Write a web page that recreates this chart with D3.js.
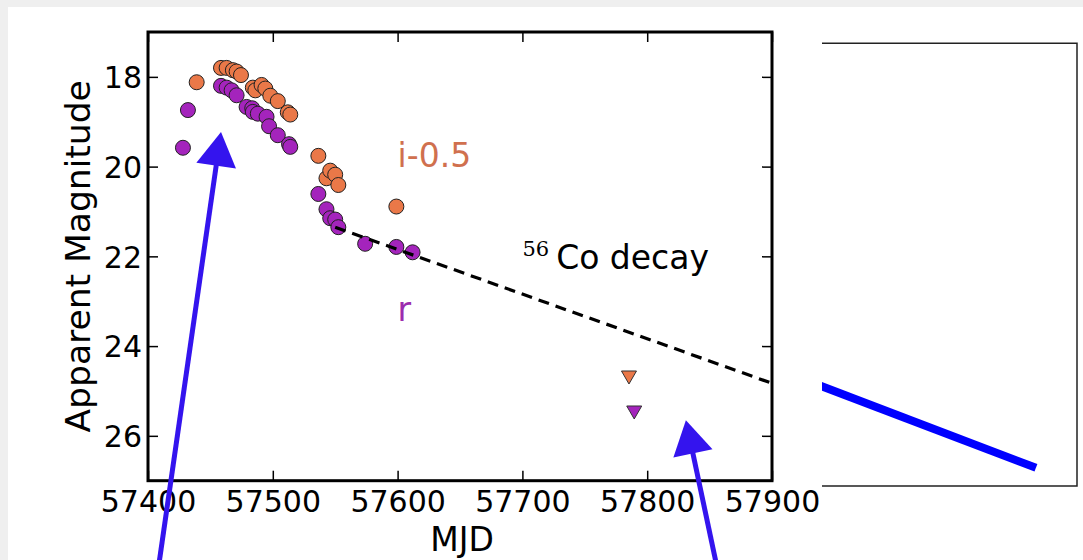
<!DOCTYPE html>
<html>
<head>
<meta charset="utf-8">
<script src="https://d3js.org/d3.v7.min.js"></script>
<style>
  body { margin: 0; background: #efefef; }
  svg { display: block; }
</style>
</head>
<body>
<div id="chart-area"></div>
<script>

// i-band (plotted as i-0.5) detections
var iMJD = [57439, 57458.5, 57463, 57468, 57471, 57474.5, 57484, 57486, 57491, 57494, 57498, 57504, 57512, 57514, 57536.5, 57543, 57546, 57550, 57552.5, 57599];
var iMag = [18.12, 17.8, 17.8, 17.85, 17.88, 17.96, 18.24, 18.3, 18.18, 18.26, 18.42, 18.54, 18.79, 18.84, 19.76, 20.26, 20.09, 20.18, 20.41, 20.89];

// r-band detections
var rMJD = [57428, 57432, 57458.5, 57463, 57467, 57471, 57479, 57483.5, 57484, 57488, 57495, 57497, 57504, 57513, 57514, 57536.5, 57543, 57546, 57550, 57552.5, 57574, 57599, 57612];
var rMag = [19.58, 18.74, 18.2, 18.24, 18.3, 18.41, 18.67, 18.7, 18.78, 18.82, 18.89, 19.10, 19.30, 19.50, 19.56, 20.61, 20.95, 21.15, 21.18, 21.35, 21.72, 21.79, 21.91];

// upper limits
var iLimMJD = [57785.4];
var iLimMag = [24.70];
var rLimMJD = [57789.6];
var rLimMag = [25.48];

// 56Co decay slope
var decayMJD = [57550, 57900];
var decayMag = [21.35, 24.83];

var xTicks = [57400, 57500, 57600, 57700, 57800, 57900];
var yTicks = [18, 20, 22, 24, 26];

// annotation arrows (tail -> tip, in data units)
var arrowTail = [[57407, 29.2], [57858, 29.2]];
var arrowTip = [[57458.5, 19.23], [57831, 25.65]];

// inset panel line (fractions of the inset box)
var insetX = [-0.05, 0.839];
var insetY = [0.764, 0.959];

var iColor = "#ea7848";
var rColor = "#a424bc";

var W = 1083, H = 560;
var margin = {left: 148, top: 32, right: 772, bottom: 480.7};

var svg = d3.select("#chart-area").append("svg")
  .attr("width", W)
  .attr("height", H)
  .style("font-family", "'DejaVu Sans', sans-serif");

svg.append("rect").attr("x", 0).attr("y", 0).attr("width", W).attr("height", H).attr("fill", "#efefef");
svg.append("rect").attr("x", 8).attr("y", 7).attr("width", W - 8).attr("height", H - 7).attr("fill", "#ffffff");

var x = d3.scaleLinear().domain([57400, 57900]).range([margin.left, margin.right]);
var y = d3.scaleLinear().domain([17, 27]).range([margin.top, margin.bottom]);

var g = svg.append("g");

// axes, ticks pointing inward
var xAxisCall = d3.axisBottom(x).tickValues(xTicks).tickSizeInner(-10).tickSizeOuter(0).tickPadding(10).tickFormat(d3.format("d"));
var yAxisCall = d3.axisLeft(y).tickValues(yTicks).tickSizeInner(-10).tickSizeOuter(0).tickPadding(6).tickFormat(d3.format("d"));

var xAxis = g.append("g").attr("transform", "translate(0," + margin.bottom + ")").call(xAxisCall);
var yAxis = g.append("g").attr("transform", "translate(" + margin.left + ",0)").call(yAxisCall);
g.append("g").attr("transform", "translate(0," + margin.top + ")")
  .call(d3.axisTop(x).tickValues(xTicks).tickSizeInner(-10).tickSizeOuter(0).tickFormat(""));
g.append("g").attr("transform", "translate(" + margin.right + ",0)")
  .call(d3.axisRight(y).tickValues(yTicks).tickSizeInner(-10).tickSizeOuter(0).tickFormat(""));

g.selectAll(".domain").remove();
g.selectAll(".tick line").attr("stroke", "#000").attr("stroke-width", 1.5);
g.selectAll(".tick text").attr("fill", "#000").style("font-size", "30px").style("font-family", "'DejaVu Sans', sans-serif");
xAxis.selectAll(".tick text").attr("dy", "0.71em");
yAxis.selectAll(".tick text").attr("dy", "0.36em");

// axis labels
svg.append("text")
  .attr("x", (margin.left + margin.right) / 2 + 2)
  .attr("y", 551)
  .attr("text-anchor", "middle")
  .attr("font-size", "33px")
  .text("MJD");

svg.append("text")
  .attr("transform", "translate(90," + ((margin.top + margin.bottom) / 2) + ") rotate(-90)")
  .attr("text-anchor", "middle")
  .attr("font-size", "34.5px")
  .text("Apparent Magnitude");

// points
var iData = iMJD.map(function(d, i) { return {mjd: d, mag: iMag[i]}; });
var rData = rMJD.map(function(d, i) { return {mjd: d, mag: rMag[i]}; });

svg.append("clipPath").attr("id", "plot-clip")
  .append("rect").attr("x", margin.left).attr("y", margin.top)
  .attr("width", margin.right - margin.left).attr("height", margin.bottom - margin.top);

var pts = svg.append("g");

pts.selectAll("circle.i")
  .data(iData)
  .enter().append("circle")
  .attr("class", "i")
  .attr("cx", function(d) { return x(d.mjd); })
  .attr("cy", function(d) { return y(d.mag); })
  .attr("r", 7.5)
  .attr("fill", iColor)
  .attr("stroke", "#222")
  .attr("stroke-width", 1);

pts.selectAll("circle.r")
  .data(rData)
  .enter().append("circle")
  .attr("class", "r")
  .attr("cx", function(d) { return x(d.mjd); })
  .attr("cy", function(d) { return y(d.mag); })
  .attr("r", 7.5)
  .attr("fill", rColor)
  .attr("stroke", "#222")
  .attr("stroke-width", 1);

// downward triangles for limits
function triDown(cx, cy) {
  return "M" + (cx - 7.5) + "," + (cy - 6.5) + "L" + (cx + 7.5) + "," + (cy - 6.5) + "L" + cx + "," + (cy + 6.5) + "Z";
}
var limData = [
  {mjd: iLimMJD, mag: iLimMag, color: iColor},
  {mjd: rLimMJD, mag: rLimMag, color: rColor}
];
limData.forEach(function(s) {
  pts.selectAll(null)
    .data(s.mjd)
    .enter().append("path")
    .attr("d", function(d, i) { return triDown(x(d), y(s.mag[i])); })
    .attr("fill", s.color)
    .attr("stroke", "#333")
    .attr("stroke-width", 1);
});

// decay line
var decayLine = d3.line()
  .x(function(d) { return x(d[0]); })
  .y(function(d) { return y(d[1]); });

svg.append("path")
  .datum(decayMJD.map(function(d, i) { return [d, decayMag[i]]; }))
  .attr("clip-path", "url(#plot-clip)")
  .attr("d", decayLine)
  .attr("fill", "none")
  .attr("stroke", "#000")
  .attr("stroke-width", 3.2)
  .attr("stroke-dasharray", "11,7");

// frame
svg.append("rect")
  .attr("x", margin.left).attr("y", margin.top)
  .attr("width", margin.right - margin.left).attr("height", margin.bottom - margin.top)
  .attr("fill", "none").attr("stroke", "#000").attr("stroke-width", 3);

// text annotations
svg.append("text")
  .attr("x", x(57600)).attr("y", y(20.0))
  .attr("font-size", "33px").attr("fill", "#d0704e")
  .text("i-0.5");

svg.append("text")
  .attr("x", x(57600)).attr("y", y(23.43))
  .attr("font-size", "33px").attr("fill", "#9c2cae")
  .text("r");

var co = svg.append("text")
  .attr("x", x(57700)).attr("y", y(22.28))
  .attr("font-size", "33px").attr("fill", "#000");
co.append("tspan")
  .attr("font-family", "'DejaVu Serif', 'Liberation Serif', serif")
  .attr("font-size", "21px")
  .attr("dy", "-13")
  .text("56");
co.append("tspan")
  .attr("dy", "13")
  .attr("dx", "7")
  .text("Co decay");

// inset panel (partly shown)
var inset = {x0: 822, x1: 1077, y0: 43.3, y1: 486};
var ix = d3.scaleLinear().domain([0, 1]).range([inset.x0, inset.x1]);
var iy = d3.scaleLinear().domain([0, 1]).range([inset.y0, inset.y1]);

svg.append("clipPath").attr("id", "inset-clip")
  .append("rect").attr("x", inset.x0).attr("y", inset.y0)
  .attr("width", inset.x1 - inset.x0).attr("height", inset.y1 - inset.y0);

svg.append("path")
  .attr("d", "M" + inset.x0 + "," + inset.y0 + "H" + inset.x1 + "V" + inset.y1 + "H" + inset.x0)
  .attr("fill", "none").attr("stroke", "#222").attr("stroke-width", 1.5);

svg.append("path")
  .datum(insetX.map(function(d, i) { return [d, insetY[i]]; }))
  .attr("clip-path", "url(#inset-clip)")
  .attr("d", d3.line().x(function(d) { return ix(d[0]); }).y(function(d) { return iy(d[1]); }))
  .attr("fill", "none")
  .attr("stroke", "#0000ff")
  .attr("stroke-width", 8);

// arrows
var arrowColor = "#3414ee";
arrowTip.forEach(function(tip, i) {
  var tx = x(tip[0]), ty = y(tip[1]);
  var sx = x(arrowTail[i][0]), sy = y(arrowTail[i][1]);
  var len = Math.hypot(tx - sx, ty - sy);
  var ux = (tx - sx) / len, uy = (ty - sy) / len;
  var headLen = 34, headHalf = 20;
  var bx = tx - ux * headLen, by = ty - uy * headLen;

  svg.append("line")
    .attr("x1", sx).attr("y1", sy)
    .attr("x2", bx + ux * 2).attr("y2", by + uy * 2)
    .attr("stroke", arrowColor).attr("stroke-width", 5);

  svg.append("path")
    .attr("d", "M" + tx + "," + ty +
      "L" + (bx - uy * headHalf) + "," + (by + ux * headHalf) +
      "L" + (bx + uy * headHalf) + "," + (by - ux * headHalf) + "Z")
    .attr("fill", arrowColor);
});

</script>
</body>
</html>
